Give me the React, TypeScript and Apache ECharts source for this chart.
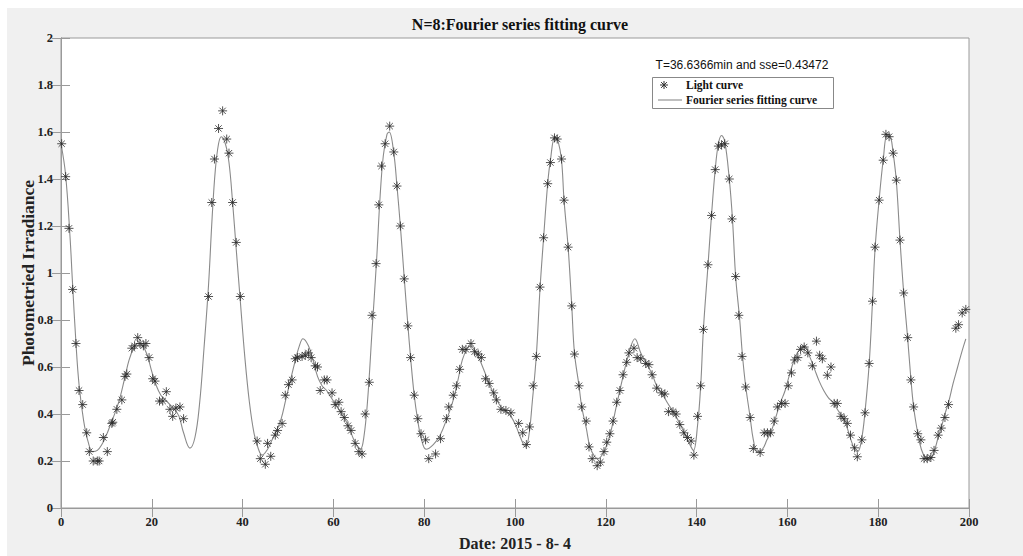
import React, { useEffect, useRef } from "react";
import * as echarts from "echarts";

// Observed light-curve samples (x, y)
const lightX = [
  0.15, 1.03, 1.76, 2.57, 3.3, 3.97, 4.78, 5.66, 6.24, 7.1, 8.0, 8.4, 9.33, 10.2, 11.2, 11.4, 12.3, 13.4, 14.1, 14.5,
  15.6, 16.2, 16.9, 17.4, 18.15, 18.7, 19.4, 20.2, 20.7, 21.7, 22.4, 23.2, 24.0, 24.6, 25.3, 26.2, 27.0,
  32.5, 33.2, 33.8, 34.7, 35.6, 36.5, 37.0, 37.8, 38.6, 39.5,
  43.2, 43.9, 45.0, 45.5, 46.2, 47.2, 47.7, 48.7, 49.4, 50.1, 50.9, 51.6, 52.1, 53.1, 53.8, 54.5, 55.1, 56.0, 56.5,
  57.1, 58.0, 58.6, 59.7, 60.4, 61.2, 61.7, 62.4, 63.2, 63.9, 64.8, 65.6, 66.3,
  67.0, 67.9, 68.5, 69.4, 70.0, 70.6, 71.4, 72.4, 73.3, 74.0, 74.75, 75.6, 76.4, 77.0, 77.8, 78.6, 79.3, 80.3, 81.0,
  82.5, 83.6, 84.9, 85.4, 86.4, 87.1, 87.8, 88.4, 89.2, 90.3, 91.1, 91.9, 92.6, 93.5, 94.3, 95.3, 95.9, 96.9, 98.0,
  99.1, 100.8, 101.7, 102.5, 103.2, 104.0, 104.7, 105.5, 106.3, 107.2, 107.8, 108.7, 109.3, 110.25, 110.8, 111.7,
  112.5, 113.1, 114.1, 114.7, 115.7, 116.3, 117.0, 118.1, 118.8, 119.6, 120.2, 120.9, 121.6, 122.4, 123.1, 123.8,
  124.6, 125.1, 126.2, 126.9, 127.7, 128.8, 129.5, 130.2, 131.2, 132.3, 133.0, 133.8, 134.8, 135.5, 136.3, 137.2,
  138.0, 138.8, 139.4, 140.2, 140.9, 141.5, 142.5, 143.3, 144.1, 144.8, 145.5, 146.2, 147.2, 147.8, 148.6, 149.3,
  150.0, 150.8, 151.8, 152.5, 154.0, 154.9, 155.6, 156.3, 157.1, 157.8, 158.7, 159.5, 160.2, 160.9, 161.6, 162.3,
  162.9, 163.7, 164.5, 165.5, 166.4, 167.1, 167.7, 168.8, 169.6, 170.3, 171.0, 171.8, 172.5, 173.2, 173.9, 174.8,
  175.4, 176.4, 177.1, 178.0, 178.75, 179.3, 180.2, 181.1, 181.7, 182.4, 183.3, 184.0, 184.8, 185.6, 186.5, 187.2,
  187.8, 188.7, 189.4, 190.1, 190.8, 191.6, 192.3, 193.2, 193.9, 194.7, 195.5, 197.1, 197.7, 198.5, 199.3,
];
const lightY = [
  1.55, 1.41, 1.19, 0.93, 0.7, 0.5, 0.44, 0.32, 0.24, 0.2, 0.2, 0.2, 0.3, 0.24, 0.36, 0.365, 0.42, 0.46, 0.56, 0.57,
  0.68, 0.69, 0.725, 0.7, 0.69, 0.7, 0.64, 0.55, 0.54, 0.455, 0.455, 0.495, 0.42, 0.39, 0.425, 0.43, 0.38,
  0.9, 1.3, 1.485, 1.615, 1.69, 1.57, 1.51, 1.3, 1.13, 0.9,
  0.285, 0.21, 0.186, 0.275, 0.22, 0.31, 0.33, 0.36, 0.48, 0.525, 0.545, 0.635, 0.64, 0.645, 0.65, 0.66, 0.64, 0.605, 0.6,
  0.5, 0.545, 0.545, 0.49, 0.44, 0.45, 0.41, 0.385, 0.35, 0.33, 0.275, 0.24, 0.23,
  0.4, 0.535, 0.82, 1.04, 1.29, 1.455, 1.55, 1.625, 1.515, 1.37, 1.2, 0.975, 0.775, 0.64, 0.48, 0.38, 0.316, 0.29, 0.21,
  0.23, 0.295, 0.38, 0.43, 0.48, 0.52, 0.59, 0.675, 0.675, 0.7, 0.665, 0.655, 0.64, 0.55, 0.53, 0.49, 0.46, 0.42, 0.415,
  0.405, 0.36, 0.32, 0.27, 0.345, 0.52, 0.645, 0.94, 1.15, 1.38, 1.47, 1.575, 1.57, 1.485, 1.31, 1.11,
  0.86, 0.655, 0.52, 0.43, 0.37, 0.26, 0.21, 0.18, 0.195, 0.24, 0.28, 0.316, 0.37, 0.45, 0.5, 0.567,
  0.62, 0.66, 0.68, 0.64, 0.635, 0.615, 0.61, 0.567, 0.51, 0.49, 0.485, 0.41, 0.41, 0.4, 0.355, 0.32,
  0.3, 0.285, 0.225, 0.39, 0.52, 0.76, 1.035, 1.245, 1.44, 1.54, 1.545, 1.55, 1.4, 1.23, 0.985, 0.82,
  0.645, 0.515, 0.385, 0.253, 0.236, 0.32, 0.32, 0.32, 0.37, 0.43, 0.445, 0.445, 0.52, 0.575, 0.63, 0.64,
  0.675, 0.685, 0.66, 0.605, 0.71, 0.65, 0.635, 0.565, 0.6, 0.445, 0.445, 0.39, 0.38, 0.36, 0.31, 0.256,
  0.218, 0.29, 0.405, 0.615, 0.88, 1.11, 1.31, 1.48, 1.59, 1.58, 1.51, 1.395, 1.14, 0.915, 0.725, 0.545,
  0.43, 0.316, 0.29, 0.21, 0.21, 0.215, 0.245, 0.31, 0.34, 0.385, 0.44, 0.765, 0.78, 0.83, 0.845,
];

// Fourier series fitting curve (x, y)
const fitX = [
  0, 1, 2, 2.5, 3.3, 4, 5, 6, 7, 8, 9, 10, 11, 12, 13, 14, 15, 16, 17, 18, 19, 20, 21, 22, 23, 24, 25, 26, 27, 28.4,
  29.5, 30.5, 31.5, 32.5, 33.3, 34, 34.7, 35.3, 36.2, 37, 37.8, 38.6, 39.5, 40.5, 41.5, 42.5, 43.5, 44.3, 45.5, 46.5,
  47.5, 48.5, 49.5, 50.5, 51.5, 52.5, 53.3, 54.5, 55.5, 56.5, 57.5, 58.5, 59.5, 60.5, 61.5, 62.5, 63.5, 64.5, 65.5,
  66.0, 66.7, 67.5, 68.5, 69.5, 70.3, 71.0, 71.8, 72.3, 73.3, 74.0, 74.75, 75.6, 76.4, 77.0, 77.8, 78.6, 79.3, 80.4,
  82.0, 83.5, 85.0, 86.4, 87.5, 88.4, 89.5, 90.3, 91.1, 92.0, 93.5, 94.5, 95.5, 96.9, 98.0, 99.1, 100.2, 101.2, 102.3,
  103.0, 103.8, 104.7, 105.5, 106.3, 107.2, 107.8, 108.8, 109.5, 110.25, 110.8, 111.7, 112.5, 113.1, 114.1, 114.7,
  115.7, 116.5, 117.5, 118.3, 119.6, 120.9, 122.4, 123.8, 125.1, 126.4, 127.7, 128.8, 130.2, 131.2, 132.3, 133.5,
  134.8, 136.3, 137.5, 138.5, 139.3, 140.2, 140.9, 141.5, 142.5, 143.3, 144.1, 144.8, 145.5, 146.2, 147.2, 147.9,
  148.6, 149.5, 150.1, 150.8, 151.8, 152.5, 153.4, 154.5, 155.5, 156.5, 157.5, 158.5, 159.5, 160.5, 161.5, 162.5,
  163.7, 165.0, 166.0, 167.0, 168.0, 169.0, 170.0, 171.0, 172.0, 173.0, 174.0, 174.8, 175.5, 176.4, 177.1, 178.0,
  178.75, 179.3, 180.2, 181.1, 182.0, 182.7, 183.3, 184.0, 184.8, 185.6, 186.5, 187.2, 187.8, 188.7, 189.5, 190.5,
  191.3, 192.3, 193.2, 194.0, 194.7, 195.5, 196.5, 197.5, 198.5, 199.3,
];
const fitY = [
  1.55, 1.42, 1.15, 0.97, 0.7, 0.52, 0.37, 0.28, 0.24, 0.245, 0.27, 0.31, 0.36, 0.41, 0.47, 0.55, 0.63, 0.68, 0.7,
  0.69, 0.65, 0.58, 0.52, 0.48, 0.46, 0.44, 0.42, 0.39, 0.32, 0.255,
  0.3, 0.44, 0.68, 0.95, 1.24, 1.44, 1.55, 1.58, 1.55, 1.47, 1.3, 1.1, 0.88, 0.64, 0.45, 0.32, 0.25, 0.225, 0.25, 0.29,
  0.33, 0.38, 0.46, 0.54, 0.62, 0.69, 0.72, 0.69, 0.63, 0.56, 0.52, 0.5, 0.47, 0.44, 0.41, 0.38, 0.34, 0.29, 0.255,
  0.252, 0.3, 0.45, 0.75, 1.05, 1.33, 1.5, 1.59, 1.6, 1.51, 1.37, 1.2, 0.98, 0.78, 0.64, 0.48, 0.37, 0.3, 0.25,
  0.27, 0.31, 0.38, 0.46, 0.55, 0.63, 0.68, 0.69, 0.67, 0.64, 0.57, 0.52, 0.48, 0.43, 0.41, 0.39, 0.35, 0.3, 0.26,
  0.3, 0.45, 0.65, 0.93, 1.15, 1.38, 1.48, 1.58, 1.56, 1.48, 1.31, 1.11, 0.86, 0.66, 0.52, 0.43,
  0.34, 0.26, 0.22, 0.21, 0.24, 0.31, 0.44, 0.56, 0.66, 0.72, 0.66, 0.62, 0.57, 0.52, 0.49, 0.45,
  0.41, 0.36, 0.31, 0.27, 0.245, 0.35, 0.52, 0.76, 1.03, 1.25, 1.44, 1.55, 1.585, 1.56, 1.4, 1.23,
  0.985, 0.8, 0.65, 0.52, 0.385, 0.29, 0.24, 0.25, 0.29, 0.33, 0.39, 0.45, 0.5, 0.57, 0.63, 0.67,
  0.69, 0.64, 0.59, 0.54, 0.5, 0.47, 0.45, 0.42, 0.39, 0.35, 0.29, 0.25, 0.24, 0.3, 0.41, 0.61,
  0.88, 1.1, 1.31, 1.48, 1.59, 1.58, 1.51, 1.39, 1.14, 0.92, 0.72, 0.55, 0.43, 0.32, 0.25, 0.21,
  0.205, 0.24, 0.3, 0.35, 0.4, 0.45, 0.53, 0.6, 0.67, 0.72,
];

const xTicks = [0, 20, 40, 60, 80, 100, 120, 140, 160, 180, 200];
const yTicks = [0, 0.2, 0.4, 0.6, 0.8, 1, 1.2, 1.4, 1.6, 1.8, 2];

const titleText = "N=8:Fourier series fitting curve";
const xName = "Date: 2015 - 8- 4";
const yName = "Photometried Irradiance";
const noteText = "T=36.6366min and sse=0.43472";
const legendNames = ["Light curve", "Fourier series fitting curve"];

const SERIF = '"Liberation Serif", "Times New Roman", serif';
const SANS = '"Liberation Sans", Arial, sans-serif';
const STAR = "path://M5,0 L5,10 M0,5 L10,5 M1.5,1.5 L8.5,8.5 M8.5,1.5 L1.5,8.5";

export default function App() {
  const ref = useRef<HTMLDivElement>(null);
  useEffect(() => {
    if (!ref.current) return;
    const chart = echarts.init(ref.current, undefined, { renderer: "svg" });
    const L = 61, T = 38, W = 908, H = 479;
    const axisCol = "#9a9a9a";
    const labelCol = "#222";
    const starLines = (cx: number, cy: number, r: number) => {
      const d = r * 0.72;
      const segs = [
        [cx, cy - r, cx, cy + r],
        [cx - r, cy, cx + r, cy],
        [cx - d, cy - d, cx + d, cy + d],
        [cx + d, cy - d, cx - d, cy + d],
      ];
      return segs.map((s) => ({
        type: "line",
        shape: { x1: s[0], y1: s[1], x2: s[2], y2: s[3] },
        style: { stroke: "#333", lineWidth: 1 },
      }));
    };
    const option: any = {
      animation: false,
      backgroundColor: "#fff",
      title: {
        text: titleText,
        left: L + W / 2,
        textAlign: "center",
        top: 11,
        textStyle: { fontFamily: SERIF, fontWeight: "bold", fontSize: 16, color: "#111" },
      },
      grid: {
        left: L, top: T, width: W, height: H,
        show: true, backgroundColor: "#fff", borderColor: axisCol, borderWidth: 1,
      },
      xAxis: [
        {
          type: "value", min: 0, max: 200, interval: 20, position: "bottom",
          name: xName, nameLocation: "middle", nameGap: 27,
          nameTextStyle: { fontFamily: SERIF, fontWeight: "bold", fontSize: 16, color: labelCol },
          axisLine: { show: true, lineStyle: { color: axisCol } },
          axisTick: { show: true, inside: true, length: 9, lineStyle: { color: axisCol } },
          axisLabel: {
            fontFamily: SERIF, fontWeight: "bold", fontSize: 12.5, color: labelCol, margin: 7,
            formatter: (v: number) => (xTicks.includes(v) ? String(v) : ""),
          },
          splitLine: { show: false },
        },
        {
          type: "value", min: 0, max: 200, interval: 20, position: "top",
          axisLine: { show: true, lineStyle: { color: axisCol } },
          axisTick: { show: true, inside: true, length: 9, lineStyle: { color: axisCol } },
          axisLabel: { show: false },
          splitLine: { show: false },
        },
      ],
      yAxis: [
        {
          type: "value", min: 0, max: 2, interval: 0.2, position: "left",
          name: yName, nameLocation: "middle", nameGap: 24, nameMoveOverlap: false,
          nameTextStyle: { fontFamily: SERIF, fontWeight: "bold", fontSize: 17.5, color: labelCol },
          axisLine: { show: true, lineStyle: { color: axisCol } },
          axisTick: { show: true, inside: true, length: 9, lineStyle: { color: axisCol } },
          axisLabel: {
            fontFamily: SERIF, fontWeight: "bold", fontSize: 12.5, color: labelCol, margin: 8,
            formatter: (v: number) => {
              const r = Math.round(v * 10) / 10;
              return yTicks.includes(r) ? String(r) : "";
            },
          },
          splitLine: { show: false },
        },
        {
          type: "value", min: 0, max: 2, interval: 0.2, position: "right",
          axisLine: { show: true, lineStyle: { color: axisCol } },
          axisTick: { show: true, inside: true, length: 9, lineStyle: { color: axisCol } },
          axisLabel: { show: false },
          splitLine: { show: false },
        },
      ],
      series: [
        {
          name: legendNames[1],
          type: "line",
          data: fitX.map((x, i) => [x, fitY[i]]),
          showSymbol: false,
          smooth: 0.4,
          lineStyle: { color: "#8a8a8a", width: 1.1 },
          z: 2,
        },
        {
          name: legendNames[0],
          type: "scatter",
          data: lightX.map((x, i) => [x, lightY[i]]),
          symbol: STAR,
          symbolSize: 9,
          itemStyle: { color: "rgba(0,0,0,0)", borderColor: "#2a2a2a", borderWidth: 1 },
          z: 3,
        },
      ],
      graphic: [
        {
          type: "rect", z: -10, silent: true,
          shape: { x: 7, y: 8, width: 1016, height: 548 },
          style: { fill: "#f0f0f0" },
        },
        {
          type: "text", z: 10,
          style: {
            x: 742, y: 65, text: noteText, textAlign: "center", textVerticalAlign: "middle",
            font: `12px ${SANS}`, fill: "#111",
          },
        },
        {
          type: "rect", z: 10,
          shape: { x: 652.5, y: 77.5, width: 181, height: 31 },
          style: { fill: "#fff", stroke: "#888", lineWidth: 1 },
        },
        ...starLines(664, 85, 4).map((e) => ({ ...e, z: 11 })),
        {
          type: "line", z: 11,
          shape: { x1: 658, y1: 100, x2: 682, y2: 100 },
          style: { stroke: "#8a8a8a", lineWidth: 1.1 },
        },
        {
          type: "text", z: 11,
          style: {
            x: 686, y: 85, text: legendNames[0], textVerticalAlign: "middle",
            font: `bold 11.5px ${SERIF}`, fill: "#111",
          },
        },
        {
          type: "text", z: 11,
          style: {
            x: 686, y: 100, text: legendNames[1], textVerticalAlign: "middle",
            font: `bold 11.5px ${SERIF}`, fill: "#111",
          },
        },
      ],
    };
    chart.setOption(option);
    return () => chart.dispose();
  }, []);
  return (
    <div
      ref={ref}
      style={{ position: "absolute", left: 0, top: 0, width: 1023, height: 556 }}
    />
  );
}
